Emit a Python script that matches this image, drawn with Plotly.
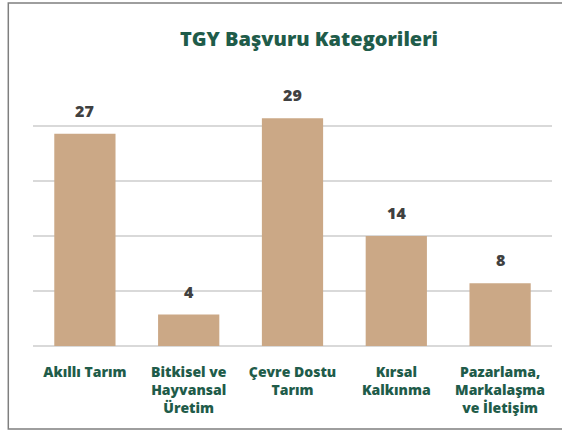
import plotly.graph_objects as go

categories = [
    "Akıllı Tarım",
    "Bitkisel ve<br>Hayvansal<br>Üretim",
    "Çevre Dostu<br>Tarım",
    "Kırsal<br>Kalkınma",
    "Pazarlama,<br>Markalaşma<br>ve İletişim",
]
values = [27, 4, 29, 14, 8]
y_ticks = [0, 7, 14, 21, 28, 35]

BAR = "#CBA886"
GREEN = "#1F5C4A"
LABEL = "#404040"
GRID = "#D9D9D9"
FONT = "Open Sans"

W, H = 562, 434
ML, MR, MT, MB = 33, 10, 71, 88
PW, PH = W - ML - MR, H - MT - MB

fig = go.Figure(
    go.Bar(
        x=categories,
        y=values,
        marker=dict(color=BAR, line=dict(width=0)),
        hoverinfo="skip",
    )
)

# value labels above each bar
for c, v in zip(categories, values):
    fig.add_annotation(
        x=c, y=v, text=str(v), showarrow=False,
        yanchor="bottom", yshift=10,
        font=dict(family=FONT, size=16, color=LABEL, weight=800),
    )

# outer chart frame (left, top, bottom edges)
def px_x(p):
    return (p - ML) / PW

def px_y(p):
    return (MT + PH - p) / PH

fig.add_shape(
    type="rect", xref="paper", yref="paper",
    x0=px_x(8.3), x1=px_x(570), y0=px_y(429), y1=px_y(3),
    line=dict(color="#7F7F7F", width=1.5), fillcolor="rgba(0,0,0,0)",
    layer="above",
)

fig.update_layout(
    width=W, height=H,
    margin=dict(l=ML, r=MR, t=MT, b=MB),
    paper_bgcolor="white", plot_bgcolor="white",
    bargap=0.41,
    showlegend=False,
    title=dict(
        text="TGY Başvuru Kategorileri",
        font=dict(family=FONT, size=20, color=GREEN, weight=800),
        x=309 / W, xanchor="center", y=1 - 39 / H, yanchor="middle",
    ),
    xaxis=dict(
        tickfont=dict(family=FONT, size=14, color=GREEN, weight=800),
        ticklabelstandoff=16,
        showgrid=False, showline=False, ticks="",
    ),
    yaxis=dict(
        range=[0, 35], tickvals=y_ticks, showticklabels=False,
        showgrid=True, gridcolor=GRID, gridwidth=1.5,
        zeroline=True, zerolinecolor=GRID, zerolinewidth=2,
        showline=False,
    ),
)

fig.write_html("out.html")
